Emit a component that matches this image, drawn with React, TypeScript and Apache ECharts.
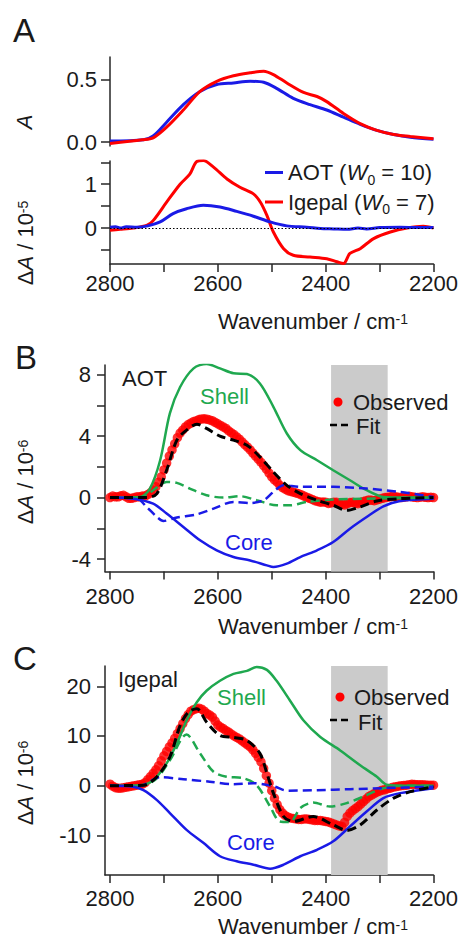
import React, { useEffect, useRef } from 'react';
import * as echarts from 'echarts';

const FONT = '"Liberation Sans", Arial, Helvetica, sans-serif';
const RED = '#ff0000';
const BLUE = '#1a1ae6';
const GREEN = '#1fa84f';
const AXIS = '#262626';
const TXT = '#1a1a1a';

// ---- shared axis ticks ----
const xTickVals = [2800, 2700, 2600, 2500, 2400, 2300, 2200];
const xLabelVals = [2800, 2600, 2400, 2200];
const bandRange = [2390, 2285];

// ---- Panel A (top): absorbance ----
const aotAbsWn = [2800, 2738, 2720, 2695, 2664, 2633, 2602, 2571, 2540, 2515, 2491, 2460, 2429, 2398, 2367, 2336, 2305, 2274, 2243, 2200];
const aotAbs = [0.01, 0.02, 0.05, 0.16, 0.30, 0.405, 0.46, 0.473, 0.486, 0.478, 0.43, 0.35, 0.30, 0.257, 0.20, 0.143, 0.095, 0.062, 0.04, 0.024];
const igeAbsWn = [2800, 2740, 2720, 2695, 2664, 2633, 2602, 2571, 2540, 2515, 2497, 2472, 2441, 2416, 2398, 2367, 2336, 2305, 2274, 2243, 2200];
const igeAbs = [-0.01, 0.02, 0.035, 0.12, 0.257, 0.405, 0.486, 0.53, 0.554, 0.567, 0.54, 0.473, 0.397, 0.365, 0.324, 0.23, 0.149, 0.095, 0.062, 0.046, 0.027];

// ---- Panel A (bottom): difference spectra /1e-5 ----
const igeDiffWn = [2800, 2781, 2757, 2732, 2720, 2695, 2670, 2652, 2639, 2627, 2608, 2583, 2559, 2534, 2521, 2509, 2497, 2478, 2460, 2429, 2398, 2379, 2367, 2355, 2336, 2311, 2280, 2249, 2219, 2200];
const igeDiff = [-0.05, -0.03, 0, 0.06, 0.17, 0.59, 1.0, 1.23, 1.52, 1.54, 1.39, 1.12, 0.93, 0.78, 0.59, 0.29, -0.09, -0.47, -0.62, -0.66, -0.70, -0.77, -0.81, -0.58, -0.47, -0.24, -0.09, 0, 0.04, 0];
const aotDiffWn = [2800, 2790, 2780, 2770, 2750, 2730, 2707, 2683, 2658, 2627, 2596, 2565, 2534, 2503, 2472, 2435, 2410, 2385, 2360, 2340, 2324, 2300, 2262, 2230, 2200];
const aotDiff = [0.02, 0.03, 0.0, 0.03, 0.02, 0.05, 0.14, 0.33, 0.44, 0.52, 0.48, 0.38, 0.27, 0.14, 0.05, 0.02, -0.01, -0.02, -0.03, 0.0, -0.02, 0.01, 0.02, 0.01, 0.015];

// ---- Observed points (panels B and C) ----
const obsWn = [
  2800, 2795, 2790, 2785, 2780, 2775, 2770, 2765, 2760, 2755, 2750, 2745, 2740, 2735, 2730, 2725, 2720, 2715, 2710, 2705,
  2700, 2695, 2690, 2685, 2680, 2675, 2670, 2665, 2660, 2655, 2650, 2645, 2640, 2635, 2630, 2625, 2620, 2615, 2610, 2605,
  2600, 2595, 2590, 2585, 2580, 2575, 2570, 2565, 2560, 2555, 2550, 2545, 2540, 2535, 2530, 2525, 2520, 2515, 2510, 2505,
  2500, 2495, 2490, 2485, 2480, 2475, 2470, 2465, 2460, 2455, 2450, 2445, 2440, 2435, 2430, 2425, 2420, 2415, 2410, 2405,
  2400, 2395, 2390, 2385, 2380, 2375, 2370, 2365, 2360, 2355, 2350, 2345, 2340, 2335, 2330, 2325, 2320, 2315, 2310, 2305,
  2300, 2295, 2290, 2285, 2280, 2275, 2270, 2265, 2260, 2255, 2250, 2245, 2240, 2235, 2230, 2225, 2220, 2215, 2210, 2205,
  2200,
];
const obsB = [
  0, 0.1, 0.05, 0.05, 0.12, 0.15, 0.05, -0.05, -0.05, 0, 0.05, 0.05, 0.1, 0.1, 0.2, 0.3, 0.5, 0.7, 1.0, 1.35,
  1.8, 2.25, 2.7, 3.1, 3.5, 3.9, 4.2, 4.4, 4.6, 4.75, 4.85, 4.95, 5.0, 5.08, 5.12, 5.13, 5.1, 5.05, 5.0, 4.9,
  4.8, 4.7, 4.6, 4.5, 4.35, 4.22, 4.1, 3.95, 3.8, 3.62, 3.45, 3.28, 3.1, 2.9, 2.7, 2.5, 2.3, 2.08, 1.85, 1.6,
  1.35, 1.15, 1.0, 0.8, 0.65, 0.55, 0.45, 0.4, 0.35, 0.3, 0.25, 0.18, 0.1, 0.02, -0.05, -0.12, -0.2, -0.25, -0.3, -0.28,
  -0.3, -0.38, -0.35, -0.3, -0.3, -0.4, -0.45, -0.48, -0.4, -0.32, -0.3, -0.38, -0.4, -0.32, -0.25, -0.2, -0.15, -0.18, -0.2, -0.15,
  -0.1, -0.05, 0, 0.03, 0.05, 0.08, 0.05, 0.02, 0, 0.03, 0.05, 0.08, 0.05, 0.02, 0, 0.03, 0.05, 0.02, 0, 0.02,
  0,
];
const obsC = [
  0.3, -0.1, -0.4, -0.5, -0.5, -0.4, -0.3, -0.2, -0.1, 0, 0.1, 0.2, 0.3, 0.6, 1.2, 1.8, 2.5, 3.2, 4.0, 5.0,
  6.0, 6.9, 7.8, 8.6, 9.5, 10.5, 11.5, 12.5, 13.5, 14.3, 15.0, 15.3, 15.5, 15.6, 15.4, 15.0, 14.5, 14.2, 13.8, 13.0,
  12.2, 11.8, 11.5, 11.1, 10.8, 10.4, 10.0, 9.7, 9.4, 9.0, 8.6, 8.2, 7.8, 7.2, 6.5, 5.7, 4.8, 3.5, 2.0, 0.5,
  -1.0, -2.5, -3.8, -4.8, -5.5, -6.0, -6.3, -6.5, -6.6, -6.7, -6.8, -6.8, -6.7, -6.7, -6.8, -6.9, -7.0, -7.0, -7.0, -7.1,
  -7.2, -7.3, -7.5, -7.7, -7.9, -8.1, -8.2, -7.4, -6.2, -5.5, -5.0, -4.6, -4.2, -3.7, -3.2, -2.7, -2.2, -1.9, -1.6, -1.3,
  -1.1, -0.9, -0.8, -0.6, -0.5, -0.3, -0.2, -0.1, 0, 0.05, 0.1, 0.2, 0.3, 0.25, 0.2, 0.2, 0.2, 0.15, 0.1, 0.1,
  0.1,
];

// ---- Panel B components /1e-6 ----
const shellBWn = [2800, 2744, 2726, 2707, 2689, 2670, 2645, 2621, 2596, 2571, 2546, 2522, 2497, 2472, 2447, 2416, 2386, 2355, 2324, 2293, 2250, 2200];
const shellB = [0, 0.04, 0.59, 2.43, 5.48, 7.2, 8.41, 8.7, 8.41, 8.09, 8.04, 7.43, 5.91, 4.17, 3.09, 2.43, 1.78, 1.13, 0.48, 0.04, 0, 0];
const coreBWn = [2800, 2757, 2720, 2695, 2664, 2633, 2602, 2571, 2540, 2509, 2497, 2472, 2447, 2416, 2386, 2355, 2324, 2293, 2262, 2200];
const coreB = [0, -0.07, -0.39, -1.04, -1.91, -2.78, -3.43, -3.87, -4.09, -4.41, -4.52, -4.3, -3.87, -3.43, -2.89, -2.02, -1.26, -0.57, -0.22, -0.07];
const shellDashBWn = [2800, 2738, 2720, 2695, 2676, 2652, 2621, 2590, 2559, 2528, 2491, 2466, 2435, 2386, 2324, 2200];
const shellDashB = [0, 0.04, 0.48, 1.02, 0.96, 0.59, 0.15, 0, 0.09, -0.17, -0.5, -0.5, -0.28, -0.13, -0.07, 0];
const coreDashBWn = [2800, 2750, 2732, 2713, 2701, 2676, 2639, 2608, 2571, 2540, 2515, 2497, 2478, 2447, 2386, 2324, 2262, 2200];
const coreDashB = [0, -0.07, -0.61, -1.26, -1.52, -1.3, -1.09, -0.72, -0.28, -0.35, -0.17, 0.37, 0.8, 0.7, 0.7, 0.59, 0.37, 0.04];
const fitBWn = [2800, 2732, 2713, 2695, 2676, 2658, 2639, 2621, 2596, 2571, 2546, 2522, 2497, 2472, 2447, 2416, 2386, 2361, 2336, 2305, 2262, 2200];
const fitB = [0, 0, 0.26, 1.78, 3.74, 4.39, 4.78, 4.5, 4.0, 3.74, 3.41, 2.65, 1.67, 0.8, 0.26, -0.17, -0.5, -0.83, -0.61, -0.22, -0.07, 0];

// ---- Panel C components /1e-6 ----
const shellCWn = [2800, 2744, 2720, 2695, 2676, 2658, 2639, 2621, 2596, 2571, 2546, 2528, 2509, 2491, 2466, 2441, 2410, 2373, 2336, 2305, 2287, 2250, 2200];
const shellC = [0, 0.1, 1.1, 4.5, 8.5, 13.1, 16.8, 19.1, 21.1, 22.5, 23.1, 23.9, 23.3, 21.1, 17.1, 13.1, 9.8, 7.1, 4.1, 1.8, 0.2, 0, 0];
const coreCWn = [2800, 2757, 2738, 2713, 2689, 2658, 2627, 2596, 2565, 2534, 2503, 2478, 2447, 2416, 2386, 2355, 2324, 2293, 2262, 2200];
const coreC = [0, -0.2, -0.9, -2.9, -5.5, -8.9, -11.5, -14.2, -15.2, -15.9, -16.7, -15.9, -14.2, -12.9, -11.2, -8.2, -5.2, -2.5, -1.5, -0.5];
const shellDashCWn = [2800, 2738, 2713, 2689, 2658, 2633, 2608, 2584, 2553, 2528, 2503, 2485, 2466, 2447, 2423, 2392, 2361, 2330, 2293, 2250, 2200];
const shellDashC = [0, 0.1, 1.5, 5.1, 10.3, 6.5, 2.8, 1.8, 1.5, 0.1, -4.2, -7.2, -7.3, -4.5, -3.4, -4.2, -3.5, -2.2, -0.5, 0, 0];
const coreDashCWn = [2800, 2744, 2707, 2664, 2615, 2571, 2534, 2497, 2472, 2416, 2355, 2293, 2200];
const coreDashC = [0, 0, 1.7, 1.3, 0.8, 0.3, 0.5, -0.1, -1.0, -0.9, -0.7, -0.5, -0.2];
const fitCWn = [2800, 2738, 2713, 2689, 2670, 2655, 2639, 2621, 2596, 2571, 2546, 2522, 2509, 2497, 2478, 2460, 2423, 2386, 2361, 2336, 2305, 2274, 2243, 2200];
const fitC = [0, 0.1, 1.8, 5.8, 12.1, 14.8, 15.5, 12.8, 10.1, 9.7, 9.1, 6.5, 2.5, -1.5, -6.2, -7.2, -6.2, -7.9, -9.0, -7.9, -4.9, -2.5, -1.2, -0.2];

const pts = (xs: number[], ys: number[]) => xs.map((x, i) => [x, ys[i]]);

const axisLineStyle = { color: AXIS, width: 1.5 };

function xAx(gi: number, max: number, show: boolean, margin: number) {
  return {
    type: 'value', gridIndex: gi, inverse: true, min: 2200, max, show,
    axisLine: { show: true, onZero: false, lineStyle: axisLineStyle },
    axisTick: { show: true, length: 8, customValues: xTickVals, lineStyle: axisLineStyle },
    axisLabel: {
      show: true, customValues: xLabelVals, margin, fontSize: 22, fontFamily: FONT, color: TXT,
      formatter: (v: number) => String(v),
    },
    splitLine: { show: false },
  };
}

function yAx(gi: number, min: number, max: number, ticks: number[], labels: number[], margin: number, tickLen: number, fmt?: (v: number) => string) {
  return {
    type: 'value', gridIndex: gi, min, max,
    axisLine: { show: true, onZero: false, lineStyle: axisLineStyle },
    axisTick: { show: true, length: tickLen, customValues: ticks, lineStyle: axisLineStyle },
    axisLabel: { customValues: labels, margin, fontSize: 22, fontFamily: FONT, color: TXT, formatter: fmt || ((v: number) => String(v)) },
    splitLine: { show: false },
  };
}

function line(gi: number, xs: number[], ys: number[], color: string, width: number, dashed: boolean, z: number) {
  return {
    type: 'line', xAxisIndex: gi, yAxisIndex: gi, data: pts(xs, ys),
    symbol: 'none', showSymbol: false, smooth: 0.3, silent: true, z,
    lineStyle: { color, width, type: dashed ? [9, 5] : 'solid' },
  };
}

function scatter(gi: number, xs: number[], ys: number[]) {
  return {
    type: 'scatter', xAxisIndex: gi, yAxisIndex: gi, data: pts(xs, ys),
    symbol: 'circle', symbolSize: 9.5, silent: true, z: 3,
    itemStyle: { color: RED },
  };
}

function band(gi: number) {
  return {
    type: 'line', xAxisIndex: gi, yAxisIndex: gi, data: [], z: 1, silent: true,
    markArea: { silent: true, itemStyle: { color: '#cbcbcb' }, data: [[{ xAxis: bandRange[0] }, { xAxis: bandRange[1] }]] },
  };
}

const baseRich = {
  n: { fontSize: 22, fontFamily: FONT, fill: TXT, verticalAlign: 'bottom', lineHeight: 20, padding: [5, 0, 0, 0] },
  i: { fontSize: 22, fontFamily: FONT, fill: TXT, fontStyle: 'italic', verticalAlign: 'bottom', lineHeight: 20, padding: [5, 0, 0, 0] },
  s: { fontSize: 14, fontFamily: FONT, fill: TXT, verticalAlign: 'top', lineHeight: 14 },
};

const legRich = {
  n: { fontSize: 22, fontFamily: FONT, fill: TXT, verticalAlign: 'top', padding: [0, 0, 3, 0] },
  i: { fontSize: 22, fontFamily: FONT, fill: TXT, fontStyle: 'italic', verticalAlign: 'top', padding: [0, 0, 3, 0] },
  b: { fontSize: 14, fontFamily: FONT, fill: TXT, verticalAlign: 'bottom', lineHeight: 14 },
};

function txt(text: string, x: number, y: number, extra: any = {}) {
  return {
    type: 'text', x, y, silent: true, z: 100,
    style: { text, fontSize: 22, fontFamily: FONT, fill: TXT, align: 'left', verticalAlign: 'middle', ...extra },
  };
}

function yTitle(text: string, x: number, y: number) {
  return {
    type: 'text', x, y, rotation: Math.PI / 2, silent: true, z: 100,
    style: { text, rich: baseRich, align: 'center', verticalAlign: 'middle', fontSize: 22, fontFamily: FONT, fill: TXT },
  };
}

function xTitle(y: number) {
  return {
    type: 'text', x: 313, y, silent: true, z: 100,
    style: { text: '{n|Wavenumber / cm}{s|-1}', rich: baseRich, align: 'center', verticalAlign: 'middle', fontSize: 22, fontFamily: FONT, fill: TXT },
  };
}

function hline(x1: number, x2: number, y: number, color: string, width: number, dash?: number[]) {
  return {
    type: 'line', silent: true, z: 100,
    shape: { x1, y1: y, x2, y2: y },
    style: { stroke: color, lineWidth: width, lineDash: dash },
  };
}

export default function App() {
  const ref = useRef<HTMLDivElement>(null);
  useEffect(() => {
    const chart = echarts.init(ref.current!, null, { renderer: 'svg' });
    const option: any = {
      animation: false,
      backgroundColor: '#ffffff',
      grid: [
        { left: 110, top: 57, width: 323.5, height: 89, outerBoundsMode: 'none' },
        { left: 110, top: 161, width: 323.5, height: 103, outerBoundsMode: 'none' },
        { left: 105, top: 365, width: 328.5, height: 206.5, outerBoundsMode: 'none' },
        { left: 105, top: 666, width: 328.5, height: 209, outerBoundsMode: 'none' },
      ],
      xAxis: [
        xAx(0, 2800, false, 8),
        xAx(1, 2800, true, 8),
        xAx(2, 2809.3, true, 14),
        xAx(3, 2809.3, true, 12),
      ],
      yAxis: [
        yAx(0, -0.03, 0.68, [0, 0.5], [0, 0.5], 13, 9, (v: number) => v.toFixed(1)),
        yAx(1, -0.82, 1.53, [-0.5, 0, 0.5, 1, 1.5], [0, 1], 13, 9),
        yAx(2, -4.81, 8.63, [-4, -2, 0, 2, 4, 6, 8], [-4, 0, 4, 8], 14, 8),
        yAx(3, -17.97, 24.08, [-10, 0, 10, 20], [-10, 0, 10, 20], 14, 8),
      ],
      series: [
        line(0, aotAbsWn, aotAbs, BLUE, 3, false, 2),
        line(0, igeAbsWn, igeAbs, RED, 3, false, 3),
        {
          ...line(1, igeDiffWn, igeDiff, RED, 3, false, 2),
          markLine: {
            silent: true, symbol: ['none', 'none'], label: { show: false },
            lineStyle: { type: [1.5, 2], color: '#000', width: 1.2 },
            data: [{ yAxis: 0 }],
          },
        },
        line(1, aotDiffWn, aotDiff, BLUE, 3, false, 3),
        band(2),
        scatter(2, obsWn, obsB),
        line(2, shellBWn, shellB, GREEN, 2.5, false, 4),
        line(2, coreBWn, coreB, BLUE, 2.5, false, 4),
        line(2, shellDashBWn, shellDashB, GREEN, 2.5, true, 5),
        line(2, coreDashBWn, coreDashB, BLUE, 2.5, true, 5),
        line(2, fitBWn, fitB, '#000000', 3, true, 6),
        band(3),
        scatter(3, obsWn, obsC),
        line(3, shellCWn, shellC, GREEN, 2.5, false, 4),
        line(3, coreCWn, coreC, BLUE, 2.5, false, 4),
        line(3, shellDashCWn, shellDashC, GREEN, 2.5, true, 5),
        line(3, coreDashCWn, coreDashC, BLUE, 2.5, true, 5),
        line(3, fitCWn, fitC, '#000000', 3, true, 6),
      ],
      graphic: [
        txt('A', 13, 30, { fontSize: 33 }),
        txt('B', 15, 357, { fontSize: 33 }),
        txt('C', 13, 658, { fontSize: 33 }),
        yTitle('{i|A}', 25, 122),
        yTitle('{n|Δ}{i|A}{n| / 10}{s|-5}', 26, 243),
        yTitle('{n|Δ}{i|A}{n| / 10}{s|-6}', 26, 482),
        yTitle('{n|Δ}{i|A}{n| / 10}{s|-6}', 26, 783),
        xTitle(322),
        xTitle(627),
        xTitle(927.5),
        // legend A
        hline(265, 283, 172.5, BLUE, 3),
        { type: 'text', x: 288, y: 174, silent: true, z: 100, style: { text: '{n|AOT (}{i|W}{b|0}{n| = 10)}', rich: legRich, align: 'left', verticalAlign: 'middle', fontSize: 22, fontFamily: FONT, fill: TXT } },
        hline(265, 283, 202, RED, 3),
        { type: 'text', x: 288, y: 203.5, silent: true, z: 100, style: { text: '{n|Igepal (}{i|W}{b|0}{n| = 7)}', rich: legRich, align: 'left', verticalAlign: 'middle', fontSize: 22, fontFamily: FONT, fill: TXT } },
        // panel B labels
        txt('AOT', 122, 378),
        txt('Shell', 200, 396, { fill: GREEN }),
        txt('Core', 225, 542, { fill: BLUE }),
        { type: 'circle', silent: true, z: 100, shape: { cx: 338, cy: 402, r: 4.5 }, style: { fill: RED } },
        txt('Observed', 353, 402),
        hline(330, 348, 425, '#000', 2.5, [7, 4]),
        txt('Fit', 356, 426),
        // panel C labels
        txt('Igepal', 118, 679),
        txt('Shell', 217, 697, { fill: GREEN }),
        txt('Core', 227, 842, { fill: BLUE }),
        { type: 'circle', silent: true, z: 100, shape: { cx: 340, cy: 697, r: 4.5 }, style: { fill: RED } },
        txt('Observed', 354, 697),
        hline(330, 348, 720, '#000', 2.5, [7, 4]),
        txt('Fit', 358, 722),
      ],
    };
    chart.setOption(option);
    return () => chart.dispose();
  }, []);
  return <div ref={ref} style={{ position: 'absolute', left: 0, top: 0, width: 461, height: 940 }} />;
}
